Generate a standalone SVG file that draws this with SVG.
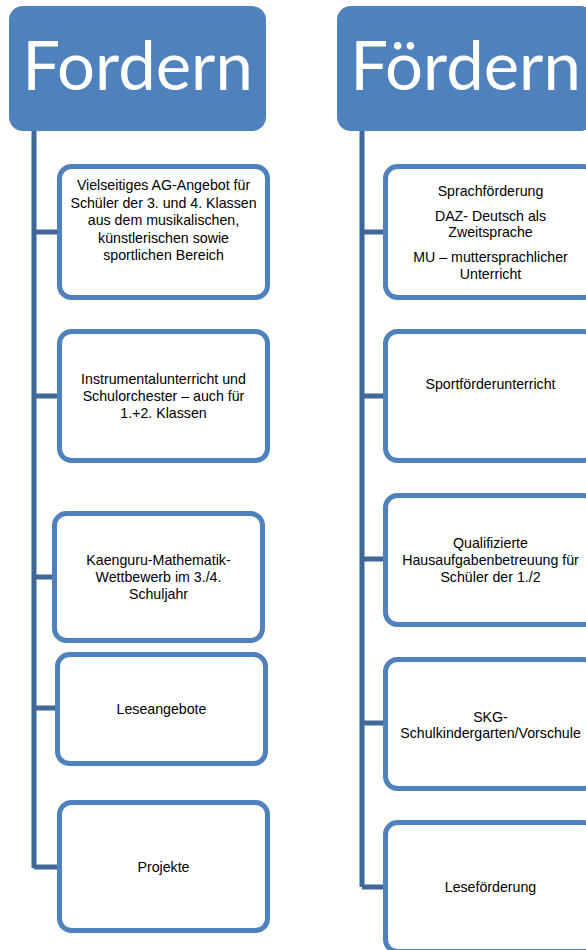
<svg xmlns="http://www.w3.org/2000/svg" width="586" height="950" viewBox="0 0 586 950">
<style>
.hdr{fill:#4F81BD;}
.ht{font-family:Lato,"Liberation Sans",sans-serif;font-size:67px;fill:#ffffff;text-anchor:middle;}
.box{fill:#ffffff;stroke:#4F81BD;stroke-width:5;}
.t{font-family:"Liberation Sans",Arial,sans-serif;font-size:14.2px;fill:#000000;text-anchor:middle;dominant-baseline:central;}
.ln{stroke:#3F6798;stroke-width:5;fill:none;}
</style>
<rect width="586" height="950" fill="#ffffff"/>
<g id="connectors">
<path class="ln" d="M34,131 V868 M34,232 H57 M34,396 H57 M34,577 H52 M34,708 H55 M34,867 H57"/>
<path class="ln" d="M362,131 V887 M362,232 H383 M362,396 H383 M362,559 H383 M362,723 H383 M362,887 H383"/>
</g>
<g id="fordern">
<rect class="hdr" x="9" y="6" width="257" height="125" rx="14"/>
<text class="ht" x="137.5" y="90">Fordern</text>
</g>
<g id="foerdern">
<rect class="hdr" x="337" y="6" width="257" height="125" rx="14"/>
<text class="ht" x="465.5" y="90">Fördern</text>
</g>
<g id="ag">
<rect class="box" x="59.5" y="166.5" width="208" height="131" rx="12"/>
<text class="t"><tspan x="163.5" y="185">Vielseitiges AG-Angebot für</tspan><tspan x="163.5" y="202.5">Schüler der 3. und 4. Klassen</tspan><tspan x="163.5" y="220">aus dem musikalischen,</tspan><tspan x="163.5" y="237.5">künstlerischen sowie</tspan><tspan x="163.5" y="255">sportlichen Bereich</tspan></text>
</g>
<g id="instrumental">
<rect class="box" x="59.5" y="331.5" width="208" height="129" rx="12"/>
<text class="t"><tspan x="163.5" y="379">Instrumentalunterricht und</tspan><tspan x="163.5" y="396">Schulorchester – auch für</tspan><tspan x="163.5" y="413">1.+2. Klassen</tspan></text>
</g>
<g id="kaenguru">
<rect class="box" x="54.5" y="513.5" width="208" height="127" rx="12"/>
<text class="t"><tspan x="158.5" y="560">Kaenguru-Mathematik-</tspan><tspan x="158.5" y="577">Wettbewerb im 3./4.</tspan><tspan x="158.5" y="594">Schuljahr</tspan></text>
</g>
<g id="leseangebote">
<rect class="box" x="57.5" y="654.5" width="208" height="109" rx="12"/>
<text class="t" x="161.5" y="709">Leseangebote</text>
</g>
<g id="projekte">
<rect class="box" x="59.5" y="802.5" width="208" height="128" rx="12"/>
<text class="t" x="163.5" y="867">Projekte</text>
</g>
<g id="sprach">
<rect class="box" x="385.5" y="166.5" width="210" height="131" rx="12"/>
<text class="t"><tspan x="490.5" y="191">Sprachförderung</tspan><tspan x="490.5" y="216">DAZ- Deutsch als</tspan><tspan x="490.5" y="232">Zweitsprache</tspan><tspan x="490.5" y="257">MU – muttersprachlicher</tspan><tspan x="490.5" y="274">Unterricht</tspan></text>
</g>
<g id="sport">
<rect class="box" x="385.5" y="331.5" width="210" height="129" rx="12"/>
<text class="t" x="490.5" y="384">Sportförderunterricht</text>
</g>
<g id="hausaufgaben">
<rect class="box" x="385.5" y="495.5" width="210" height="129" rx="12"/>
<text class="t"><tspan x="490.5" y="543">Qualifizierte</tspan><tspan x="490.5" y="560">Hausaufgabenbetreuung für</tspan><tspan x="490.5" y="577">Schüler der 1./2</tspan></text>
</g>
<g id="skg">
<rect class="box" x="385.5" y="659.5" width="210" height="129" rx="12"/>
<text class="t"><tspan x="490.5" y="717">SKG-</tspan><tspan x="490.5" y="733">Schulkindergarten/Vorschule</tspan></text>
</g>
<g id="lesefoerderung">
<rect class="box" x="385.5" y="822.5" width="210" height="129" rx="12"/>
<text class="t" x="490.5" y="887">Leseförderung</text>
</g>
</svg>
